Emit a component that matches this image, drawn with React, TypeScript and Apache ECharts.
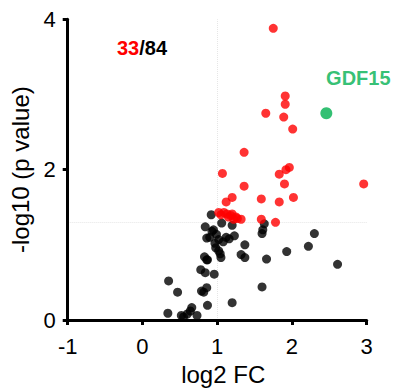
import React, { useEffect, useRef } from "react";
import * as echarts from "echarts";

const xTicks = [-1, 0, 1, 2, 3];
const yTicks = [0, 2, 4];

const blackPoints: [number, number][] = [
  [0.92, 1.40], [1.06, 1.29], [0.84, 1.24], [0.95, 1.20], [1.20, 1.26],
  [0.99, 1.14], [0.86, 1.09], [1.02, 1.07], [1.08, 1.04], [1.16, 1.08],
  [1.23, 1.12], [1.37, 1.00], [0.98, 0.96], [1.02, 0.92], [1.05, 0.83],
  [1.32, 0.87], [1.37, 0.83], [0.83, 0.84], [0.87, 0.80], [0.78, 0.67],
  [0.84, 0.63], [0.96, 0.61], [0.35, 0.52], [0.47, 0.37], [0.79, 0.385],
  [0.82, 0.37], [0.86, 0.43], [0.87, 0.195], [1.20, 0.23], [0.34, 0.09],
  [0.52, 0.06], [0.55, 0.04], [0.66, 0.165], [0.64, 0.12], [0.60, 0.08],
  [0.73, 0.06], [1.63, 1.28], [1.61, 1.20], [1.60, 1.15], [2.30, 1.15],
  [2.22, 0.98], [1.93, 0.91], [1.66, 0.81], [2.61, 0.74], [1.60, 0.44],
  [0.90, 1.10], [1.12, 1.10], [0.97, 1.02], [1.04, 0.88], [0.86, 0.80],
  [0.93, 1.18],
];

const redPoints: [number, number][] = [
  [1.75, 3.88], [1.91, 2.98], [1.91, 2.87], [1.65, 2.75], [1.89, 2.70],
  [2.01, 2.54], [1.36, 2.23], [1.07, 1.95], [1.83, 1.94], [1.92, 2.00],
  [1.965, 2.03], [1.36, 1.78], [1.90, 1.81], [2.96, 1.81], [1.20, 1.63],
  [1.12, 1.57], [1.59, 1.61], [1.83, 1.57], [2.02, 1.63], [1.02, 1.43],
  [1.09, 1.43], [1.20, 1.41], [1.15, 1.37], [1.22, 1.34], [1.32, 1.34],
  [1.59, 1.34], [1.78, 1.30], [1.18, 1.39], [1.27, 1.35], [1.05, 1.40],
  [1.13, 1.41], [1.25, 1.37],
];

const highlightPoints: [number, number][] = [[2.46, 2.75]];
const highlightName = "GDF15";
const sigCount = "33";
const totalCount = "84";
const pThreshold = 1.3;
const fcThreshold = 1;

const FONT = "'Liberation Sans', Arial, Helvetica, sans-serif";

export default function App() {
  const ref = useRef<HTMLDivElement>(null);
  useEffect(() => {
    if (!ref.current) return;
    const chart = echarts.init(ref.current, undefined, { renderer: "svg" });
    chart.setOption({
      animation: false,
      backgroundColor: "#ffffff",
      grid: { left: 67.7, top: 19.3, width: 299, height: 301.4, containLabel: false },
      xAxis: {
        type: "value",
        min: xTicks[0],
        max: xTicks[xTicks.length - 1],
        interval: 1,
        name: "log2 FC",
        nameLocation: "middle",
        nameGap: 42,
        nameTextStyle: { fontFamily: FONT, fontSize: 24, color: "#000", padding: [0, 0, 0, 12] },
        axisLine: { onZero: false, lineStyle: { color: "#000", width: 3 } },
        axisTick: { length: 5, lineStyle: { color: "#000", width: 3 } },
        axisLabel: { fontFamily: FONT, fontSize: 22, color: "#000", margin: 15 },
        splitLine: { show: false },
        z: 5,
      },
      yAxis: {
        type: "value",
        min: yTicks[0],
        max: yTicks[yTicks.length - 1],
        interval: 2,
        name: "-log10 (p value)",
        nameLocation: "middle",
        nameGap: 22,
        nameTextStyle: { fontFamily: FONT, fontSize: 24, color: "#000" },
        axisLine: { onZero: false, lineStyle: { color: "#000", width: 3 } },
        axisTick: { length: 5, lineStyle: { color: "#000", width: 3 } },
        axisLabel: { fontFamily: FONT, fontSize: 22, color: "#000", margin: 12 },
        splitLine: { show: false },
        z: 5,
      },
      graphic: [
        {
          type: "text",
          left: 117,
          top: 38,
          style: {
            text: `{r|${sigCount}}{b|/${totalCount}}`,
            rich: {
              r: { fill: "#ff0000", fontFamily: FONT, fontSize: 20, fontWeight: "bold" },
              b: { fill: "#000000", fontFamily: FONT, fontSize: 20, fontWeight: "bold" },
            },
          },
        },
      ],
      series: [
        {
          type: "scatter",
          data: [],
          silent: true,
          z: 1,
          markLine: {
            silent: true,
            z: 0,
            symbol: "none",
            label: { show: false },
            lineStyle: { type: "dotted", color: "#e6e6e6", width: 1 },
            data: [{ yAxis: pThreshold }, { xAxis: fcThreshold }],
          },
        },
        {
          type: "scatter",
          data: blackPoints,
          symbolSize: 9,
          itemStyle: { color: "#000000" },
          z: 2,
        },
        {
          type: "scatter",
          data: redPoints,
          symbolSize: 9,
          itemStyle: { color: "#ff0000" },
          z: 3,
        },
        {
          type: "scatter",
          data: highlightPoints,
          symbolSize: 12,
          itemStyle: { color: "#00b050" },
          label: {
            show: true,
            formatter: highlightName,
            position: "inside",
            offset: [32, -35],
            color: "#00b050",
            fontFamily: FONT,
            fontSize: 20,
            fontWeight: "bold",
          },
          z: 4,
        },
      ],
    });
    return () => chart.dispose();
  }, []);
  return (
    <div
      ref={ref}
      style={{ position: "absolute", left: 0, top: 0, width: 399, height: 391 }}
    />
  );
}
